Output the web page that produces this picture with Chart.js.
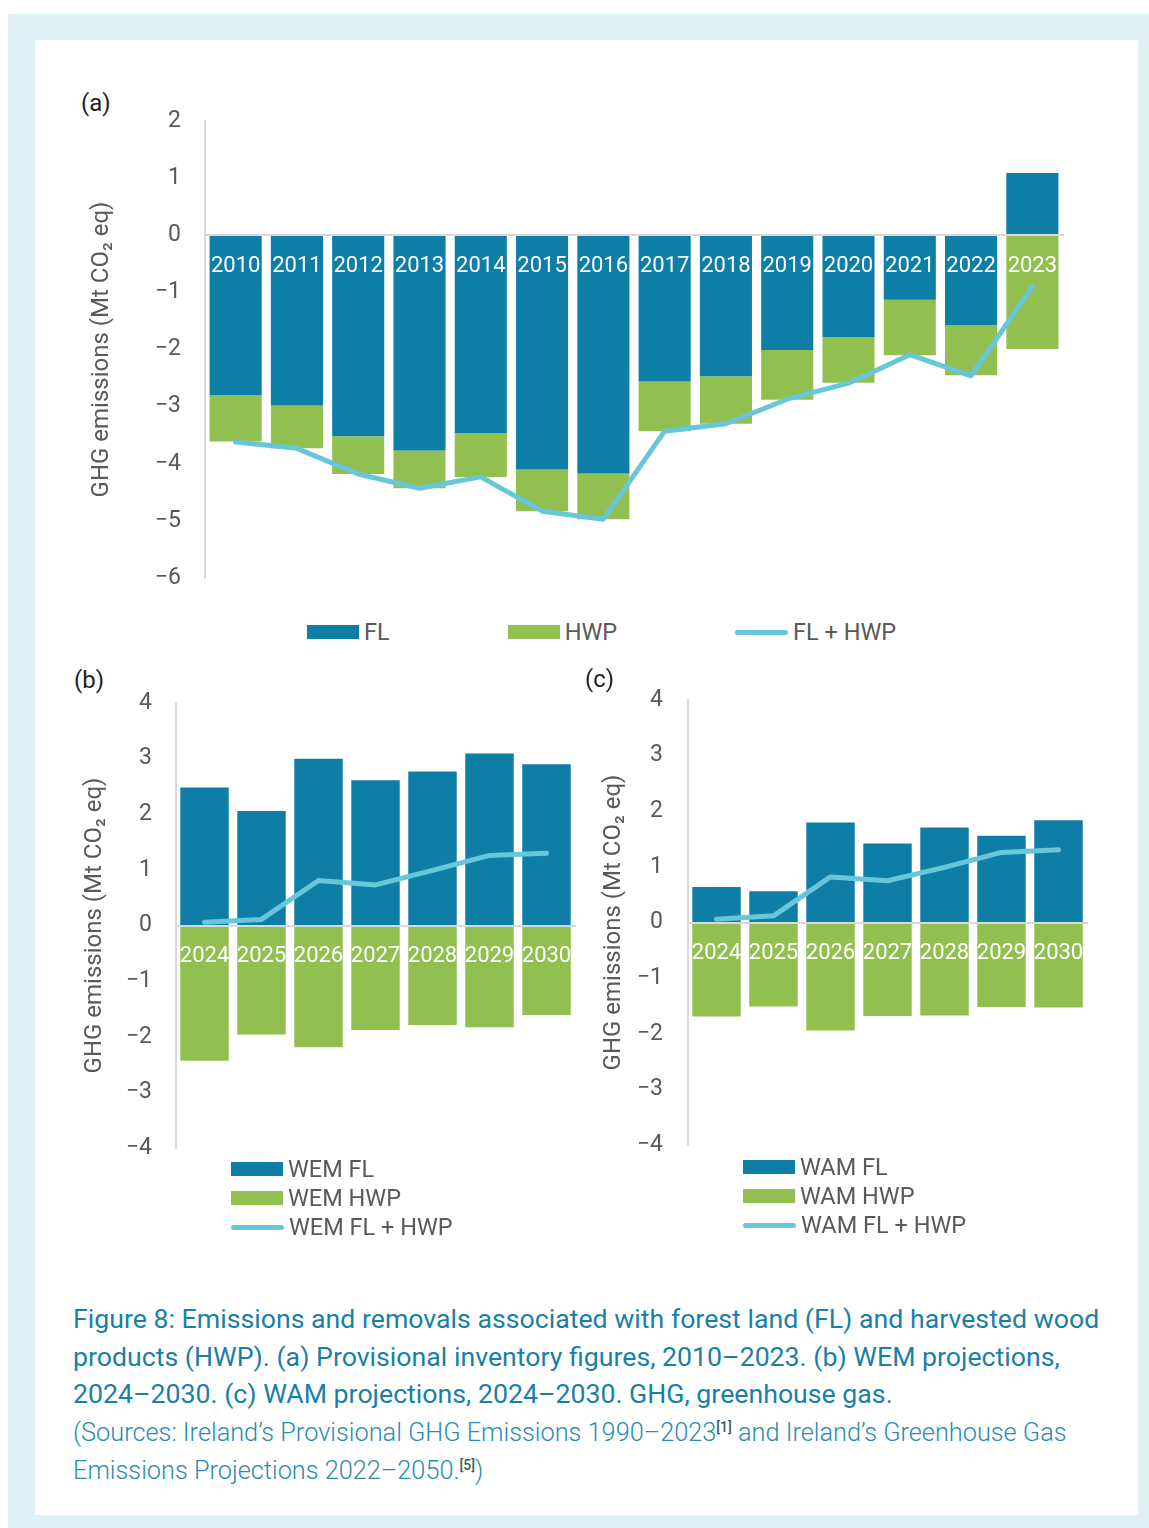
<!DOCTYPE html>
<html lang="en">
<head>
<meta charset="utf-8">
<title>Forest land and harvested wood products</title>
<script src="https://cdn.jsdelivr.net/npm/chart.js@4.4.1/dist/chart.umd.min.js"></script>
<style>
    html, body {
        margin: 0;
        padding: 0;
        background: #ffffff;
        font-family: Roboto, "Noto Sans", sans-serif;
    }
    .page {
        position: relative;
        width: 1149px;
        height: 1528px;
        overflow: hidden;
    }
    .frame {
        position: absolute;
        left: 8px;
        top: 14px;
        width: 1103px;
        height: 1475px;
        border-style: solid;
        border-color: #dff0f4;
        border-width: 26px 11px 13px 27px;
        background: #ffffff;
    }
    canvas {
        position: absolute;
    }
    .panel-tag {
        position: absolute;
        font-size: 24px;
        color: #222222;
        line-height: 28px;
    }
    .legend {
        position: absolute;
        font-size: 23.5px;
        color: #595959;
    }
    .legend.row {
        display: flex;
        gap: 118px;
    }
    .legend.column {
        display: flex;
        flex-direction: column;
        gap: 5px;
    }
    .legend-item {
        display: flex;
        align-items: center;
        height: 24px;
    }
    .swatch {
        width: 52px;
        height: 14px;
        margin-right: 5px;
    }
    .swatch.line {
        width: 53px;
        height: 5px;
        border-radius: 3px;
    }
    .caption {
        position: absolute;
        left: 73px;
        top: 1301px;
        white-space: nowrap;
        color: #1a7fa7;
    }
    .caption .title {
        font-size: 26.7px;
        line-height: 37.5px;
    }
    .caption .sources {
        font-size: 25.3px;
        line-height: 38px;
        font-weight: 300;
        color: #2a8bb2;
    }
    .caption sup {
        font-size: 14px;
        font-weight: 500;
        color: #3d5c5c;
        vertical-align: 9px;
        line-height: 0;
    }
</style>
</head>
<body>
<div class="page">
    <div class="frame"></div>

    <div class="panel-tag" style="left:81px; top:89px;">(a)</div>
    <canvas id="chartA" width="1020" height="510" style="left:60px; top:91px;"></canvas>
    <div class="legend row" id="legendA" style="left:307px; top:620px;"></div>

    <div class="panel-tag" style="left:74px; top:666px;">(b)</div>
    <canvas id="chartB" width="530" height="500" style="left:60px; top:673px;"></canvas>
    <div class="legend column" id="legendB" style="left:231px; top:1157px;"></div>

    <div class="panel-tag" style="left:585px; top:665px;">(c)</div>
    <canvas id="chartC" width="530" height="500" style="left:572px; top:670px;"></canvas>
    <div class="legend column" id="legendC" style="left:743px; top:1155px;"></div>

    <div class="caption">
        <div class="title">
            Figure 8: Emissions and removals associated with forest land (FL) and harvested wood<br>
            products (HWP). (a) Provisional inventory figures, 2010–2023. (b) WEM projections,<br>
            2024–2030. (c) WAM projections, 2024–2030. GHG, greenhouse gas.
        </div>
        <div class="sources">
            (Sources: Ireland’s Provisional GHG Emissions 1990–2023<sup>[1]</sup> and Ireland’s Greenhouse Gas<br>
            Emissions Projections 2022–2050.<sup>[5]</sup>)
        </div>
    </div>
</div>

<script>
// Provisional inventory, 2010-2023 (Mt CO2 eq)
const yearsA = ["2010", "2011", "2012", "2013", "2014", "2015", "2016", "2017", "2018", "2019", "2020", "2021", "2022", "2023"];
const flA = [-2.80, -2.98, -3.52, -3.77, -3.46, -4.10, -4.17, -2.56, -2.47, -2.01, -1.78, -1.13, -1.57, 1.09];
const hwpA = [-0.81, -0.75, -0.66, -0.66, -0.77, -0.73, -0.80, -0.87, -0.83, -0.87, -0.80, -0.97, -0.88, -1.99];
const totalA = [-3.62, -3.73, -4.18, -4.43, -4.23, -4.83, -4.97, -3.43, -3.30, -2.87, -2.59, -2.09, -2.46, -0.90];

// Projections, 2024-2030
const yearsProj = ["2024", "2025", "2026", "2027", "2028", "2029", "2030"];
const flWem = [2.48, 2.06, 3.00, 2.61, 2.77, 3.09, 2.90];
const hwpWem = [-2.43, -1.96, -2.19, -1.88, -1.79, -1.83, -1.61];
const totalWem = [0.06, 0.11, 0.81, 0.73, 0.99, 1.26, 1.30];
const flWam = [0.64, 0.56, 1.80, 1.42, 1.71, 1.56, 1.84];
const hwpWam = [-1.69, -1.51, -1.94, -1.68, -1.67, -1.52, -1.53];
const totalWam = [0.06, 0.12, 0.82, 0.75, 0.99, 1.26, 1.31];

// Axis ranges
const rangeA = [-6, 2];
const rangeProj = [-4, 4];

const FL_COLOR = "#0f7ea7";
const HWP_COLOR = "#92c050";
const SUM_COLOR = "#68c6da";
const TEXT_GREY = "#595959";
const AXIS_GREY = "#d9d9d9";

Chart.defaults.font.family = "Roboto, 'Noto Sans', sans-serif";
Chart.defaults.color = TEXT_GREY;

function buildChart(canvasId, labels, fl, hwp, total, names, range, layout) {
    const ctx = document.getElementById(canvasId).getContext("2d");
    return new Chart(ctx, {
        type: "bar",
        data: {
            labels: labels,
            datasets: [
                {
                    label: names[0],
                    data: fl,
                    backgroundColor: FL_COLOR,
                    stack: "parts",
                    order: 1,
                    barPercentage: 0.85,
                    categoryPercentage: 1.0,
                },
                {
                    label: names[1],
                    data: hwp,
                    backgroundColor: HWP_COLOR,
                    stack: "parts",
                    order: 1,
                    barPercentage: 0.85,
                    categoryPercentage: 1.0,
                },
                {
                    type: "line",
                    label: names[2],
                    data: total,
                    borderColor: SUM_COLOR,
                    backgroundColor: SUM_COLOR,
                    borderWidth: 5,
                    borderCapStyle: "round",
                    borderJoinStyle: "round",
                    pointRadius: 0,
                    tension: 0,
                    stack: "total",
                    order: 0,
                },
            ],
        },
        options: {
            responsive: false,
            animation: false,
            devicePixelRatio: 1,
            layout: {
                padding: layout.padding,
            },
            plugins: {
                legend: { display: false },
                tooltip: { enabled: false },
            },
            scales: {
                // year labels sit just under the zero line, on top of the bars
                x: {
                    position: { y: 0 },
                    stacked: true,
                    grid: { display: false, tickLength: 8 },
                    border: { display: true, color: AXIS_GREY, width: 2, z: 1 },
                    ticks: {
                        color: "#ffffff",
                        font: { size: 22 },
                        padding: 10,
                        maxRotation: 0,
                        autoSkip: false,
                        z: 1,
                    },
                },
                y: {
                    stacked: true,
                    min: range[0],
                    max: range[1],
                    // no tick marks drawn, tickLength only sets the label gap
                    grid: { display: false, tickLength: layout.tickGap },
                    border: { display: true, color: AXIS_GREY, width: 2 },
                    ticks: {
                        stepSize: 1,
                        padding: 0,
                        color: TEXT_GREY,
                        font: { size: 23 },
                        callback: (value) => String(value).replace("-", "\u2212"),
                    },
                    title: {
                        display: true,
                        text: "GHG emissions (Mt CO\u2082 eq)",
                        color: TEXT_GREY,
                        font: { size: 24 },
                        padding: { top: 4, bottom: 4 },
                    },
                    afterFit: (scale) => {
                        scale.width = layout.axisWidth;
                    },
                },
            },
        },
    });
}

// HTML legend built from the chart's datasets
function buildLegend(chart, containerId) {
    const container = document.getElementById(containerId);
    chart.data.datasets.forEach((ds) => {
        const item = document.createElement("div");
        item.className = "legend-item";
        const swatch = document.createElement("span");
        swatch.className = ds.type === "line" ? "swatch line" : "swatch";
        swatch.style.background = ds.type === "line" ? ds.borderColor : ds.backgroundColor;
        const text = document.createElement("span");
        text.textContent = ds.label;
        item.appendChild(swatch);
        item.appendChild(text);
        container.appendChild(item);
    });
}

document.addEventListener("DOMContentLoaded", function () {
    // Panel (a): provisional inventory
    const chartA = buildChart("chartA", yearsA, flA, hwpA, totalA,
        ["FL", "HWP", "FL + HWP"], rangeA,
        { padding: { left: 24, top: 30, right: 17, bottom: 23 }, axisWidth: 121, tickGap: 24 });
    buildLegend(chartA, "legendA");

    // Panel (b): WEM projections
    const chartB = buildChart("chartB", yearsProj, flWem, hwpWem, totalWem,
        ["WEM FL", "WEM HWP", "WEM FL + HWP"], rangeProj,
        { padding: { left: 17, top: 30, right: 15, bottom: 25 }, axisWidth: 99, tickGap: 24 });
    buildLegend(chartB, "legendB");

    // Panel (c): WAM projections
    const chartC = buildChart("chartC", yearsProj, flWam, hwpWam, totalWam,
        ["WAM FL", "WAM HWP", "WAM FL + HWP"], rangeProj,
        { padding: { left: 24, top: 30, right: 15, bottom: 25 }, axisWidth: 92, tickGap: 25 });
    buildLegend(chartC, "legendC");
});
</script>
</body>
</html>
